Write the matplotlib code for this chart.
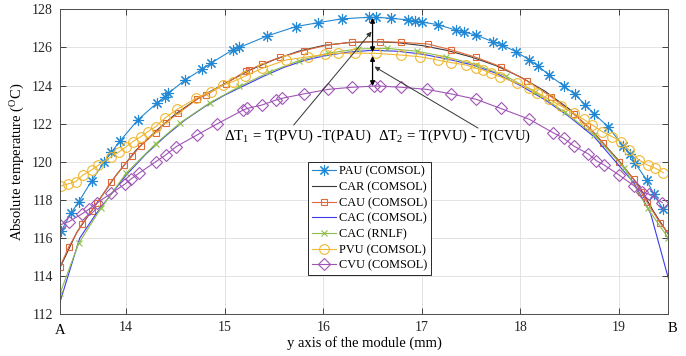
import matplotlib
matplotlib.use("Agg")
import matplotlib.pyplot as plt

plt.rcParams['font.family'] = ['Liberation Serif', 'DejaVu Serif']
plt.rcParams['mathtext.fontset'] = 'custom'
plt.rcParams['mathtext.rm'] = 'Liberation Serif'
plt.rcParams['mathtext.it'] = 'Liberation Serif:italic'
plt.rcParams['mathtext.bf'] = 'Liberation Serif:bold'

# ---------------- data ----------------
pau_x = [13.34, 13.44, 13.52, 13.65, 13.78, 13.85, 13.94, 14.12, 14.31, 14.39, 14.43, 14.60, 14.77, 14.86,
         15.08, 15.15, 15.43, 15.72, 15.95, 16.19, 16.46, 16.53, 16.69, 16.86, 16.93, 17.00, 17.16, 17.35,
         17.43, 17.55, 17.72, 17.81, 17.955, 18.09, 18.18, 18.29, 18.44, 18.55, 18.66, 18.75, 18.89, 19.04,
         19.11, 19.16, 19.28, 19.35, 19.45]
pau_y = [116.35, 117.3, 117.9, 119.0, 120.0, 120.5, 121.1, 122.2, 123.07, 123.4, 123.6, 124.3, 124.85, 125.17,
         125.87, 126.0, 126.6, 127.09, 127.3, 127.5, 127.58, 127.58, 127.53, 127.44, 127.4, 127.33, 127.2, 126.9,
         126.8, 126.65, 126.3, 126.13, 125.78, 125.34, 125.03, 124.55, 123.98, 123.54, 122.98, 122.5, 121.84, 120.83,
         120.41, 119.95, 119.05, 118.31, 117.5]

car_x = [13.33, 13.5, 13.7, 13.9, 14.1, 14.3, 14.5, 14.75, 15.0, 15.25, 15.5, 15.75, 16.0, 16.25, 16.5,
         16.75, 17.0, 17.25, 17.5, 17.75, 18.0, 18.25, 18.5, 18.75, 19.0, 19.2, 19.35, 19.5]
car_y = [114.45, 116.3, 117.8, 119.3, 120.6, 121.6, 122.5, 123.4, 124.1, 124.8, 125.35, 125.8, 126.1, 126.25, 126.3,
         126.25, 126.1, 125.85, 125.5, 125.05, 124.45, 123.7, 122.75, 121.5, 120.05, 118.75, 117.4, 116.2]

cau_x = [13.33, 13.42, 13.55, 13.65, 13.71, 13.85, 13.98, 14.06, 14.15, 14.30, 14.40, 14.53, 14.72, 14.81,
         15.01, 15.22, 15.25, 15.38, 15.56, 15.80, 16.05, 16.29, 16.58, 16.79, 17.06, 17.30, 17.55, 17.80,
         18.07, 18.31, 18.54, 18.68, 18.84, 19.00, 19.15, 19.22, 19.28, 19.42, 19.50]
cau_y = [114.5, 115.55, 116.72, 117.44, 117.86, 118.96, 119.83, 120.3, 120.85, 121.53, 122.05, 122.55, 123.28, 123.5,
         124.1, 124.78, 124.82, 125.13, 125.48, 125.83, 126.13, 126.27, 126.3, 126.27, 126.18, 125.87, 125.48, 124.99,
         124.24, 123.42, 122.5, 121.88, 120.97, 120.0, 119.08, 118.43, 117.91, 116.77, 116.25]

cac_x = [13.33, 13.53, 13.7, 13.85, 14.0, 14.2, 14.4, 14.6, 14.8, 15.0, 15.2, 15.4, 15.6, 15.8, 16.0, 16.25,
         16.5, 16.75, 17.0, 17.25, 17.5, 17.75, 18.0, 18.25, 18.5, 18.75, 19.0, 19.15, 19.32, 19.5]
cac_y = [112.65, 116.0, 117.3, 118.3, 119.3, 120.4, 121.35, 122.2, 122.9, 123.5, 124.0, 124.5, 124.95, 125.3, 125.55, 125.75,
         125.85, 125.8, 125.65, 125.4, 125.1, 124.65, 124.0, 123.25, 122.35, 121.3, 119.8, 118.9, 117.3, 113.9]

rnlf_x = [13.33, 13.52, 13.75, 14.0, 14.3, 14.55, 14.85, 15.15, 15.45, 15.75, 16.05, 16.35, 16.65, 16.95,
          17.25, 17.55, 17.85, 18.15, 18.45, 18.75, 19.05, 19.29, 19.5]
rnlf_y = [113.1, 115.73, 117.6, 119.4, 120.95, 122.05, 123.1, 123.95, 124.7, 125.3, 125.7, 125.92, 125.95, 125.8,
          125.5, 125.1, 124.5, 123.65, 122.6, 121.4, 119.7, 117.56, 116.0]

pvu_x = [13.34, 13.41, 13.49, 13.56, 13.65, 13.72, 13.85, 13.93, 14.00, 14.07, 14.15, 14.22, 14.30, 14.39,
         14.52, 14.71, 14.86, 14.98, 15.08, 15.21, 15.38, 15.62, 15.85, 16.02, 16.15, 16.32, 16.53, 16.79,
         16.98, 17.16, 17.30, 17.45, 17.55, 17.62, 17.70, 17.79, 17.97, 18.09, 18.17, 18.29, 18.41, 18.54,
         18.64, 18.73, 18.83, 18.93, 19.02, 19.10, 19.20, 19.29, 19.37, 19.45]
pvu_y = [118.73, 118.84, 118.96, 119.3, 119.57, 119.83, 120.27, 120.53, 120.79, 121.06, 121.32, 121.58, 121.84, 122.28,
         122.76, 123.33, 123.68, 124.03, 124.2, 124.5, 124.9, 125.34, 125.51, 125.64, 125.69, 125.7, 125.69, 125.6,
         125.51, 125.34, 125.2, 125.08, 124.9, 124.82, 124.64, 124.47, 124.12, 123.86, 123.63, 123.28, 122.93, 122.55,
         122.23, 121.93, 121.58, 121.32, 121.06, 120.62, 120.1, 119.83, 119.66, 119.43]

cvu_x = [13.33, 13.42, 13.55, 13.62, 13.71, 13.85, 13.99, 14.05, 14.13, 14.30, 14.40, 14.51, 14.72, 14.92,
         15.19, 15.23, 15.38, 15.52, 15.58, 15.80, 16.05, 16.29, 16.51, 16.58, 16.79, 17.05, 17.30, 17.55,
         17.80, 18.09, 18.33, 18.44, 18.54, 18.69, 18.77, 18.85, 19.00, 19.15, 19.23, 19.30, 19.44]
cvu_y = [116.69, 116.86, 117.26, 117.5, 117.86, 118.35, 118.84, 119.1, 119.4, 120.0, 120.35, 120.8, 121.41, 121.98,
         122.72, 122.8, 122.98, 123.24, 123.33, 123.56, 123.8, 123.91, 123.97, 123.97, 123.91, 123.8, 123.56, 123.28,
         122.8, 122.23, 121.53, 121.23, 120.83, 120.41, 120.06, 119.83, 119.31, 118.75, 118.43, 118.31, 117.86]

x_ticks = [14, 15, 16, 17, 18, 19]
y_ticks = [112, 114, 116, 118, 120, 122, 124, 126, 128]
x_min, x_max = 13.33, 19.5

arrow_x = 16.5
pau_peak, pvu_peak, cvu_peak = 127.55, 125.7, 123.97

# ---------------- figure ----------------
fig = plt.figure(figsize=(6.86, 3.56), dpi=100)
ax = fig.add_axes([0.0875, 0.1171, 0.9742 - 0.0875, 0.9739 - 0.1171])

lw = 0.8
ax.plot(pau_x, pau_y, color='#2288d4', lw=lw, marker=(8, 2, 0), ms=8, mfc='none', mew=0.8, label='PAU (COMSOL)')
ax.plot(car_x, car_y, color='#3a3a3a', lw=lw, label='CAR (COMSOL)')
ax.plot(cau_x, cau_y, color='#e06a3a', lw=lw, marker='s', ms=5, mfc='none', mew=0.8, label='CAU (COMSOL)')
ax.plot(cac_x, cac_y, color='#3b3bf0', lw=lw, label='CAC (COMSOL)')
ax.plot(rnlf_x, rnlf_y, color='#8fbf4a', lw=lw, marker='x', ms=5, mfc='none', mew=0.8, label='CAC (RNLF)')
ax.plot(pvu_x, pvu_y, color='#f0b830', lw=lw, marker='o', ms=7, mfc='none', mew=0.8, label='PVU (COMSOL)')
ax.plot(cvu_x, cvu_y, color='#a055b5', lw=lw, marker='D', ms=6, mfc='none', mew=0.8, label='CVU (COMSOL)')

ax.set_xlim(x_min, x_max)
ax.set_ylim(112, 128)
ax.set_xticks(x_ticks)
ax.set_yticks(y_ticks)
ax.tick_params(direction='in', top=True, right=True, length=4, width=0.6,
               labelsize=10, colors='#262626', pad=5)
ax.grid(True, color='#e3e3e3', lw=0.7)
ax.set_axisbelow(True)
for s in ax.spines.values():
    s.set_linewidth(0.7)
    s.set_color('#4d4d4d')

ax.set_xlabel('y axis of the module (mm)', fontsize=10.5, labelpad=1)
ax.set_ylabel('Absolute temperature ($^{\\mathrm{O}}$C)', fontsize=10.5, labelpad=4)

# A / B end labels
ax.annotate('A', xy=(x_min, 0), xycoords=('data', 'axes fraction'), xytext=(0, -12),
            textcoords='offset points', ha='center', va='center', fontsize=10.5)
ax.annotate('B', xy=(x_max, 0), xycoords=('data', 'axes fraction'), xytext=(3, -10),
            textcoords='offset points', ha='center', va='center', fontsize=10.5)

# double arrows
ax.annotate('', xy=(arrow_x, pau_peak), xytext=(arrow_x, pvu_peak + 0.05),
            arrowprops=dict(arrowstyle='<|-|>', color='black', lw=0.9, mutation_scale=7,
                            shrinkA=0, shrinkB=0))
ax.annotate('', xy=(arrow_x, pvu_peak - 0.15), xytext=(arrow_x, cvu_peak),
            arrowprops=dict(arrowstyle='<|-|>', color='black', lw=0.9, mutation_scale=7,
                            shrinkA=0, shrinkB=0))
# leader lines
ax.annotate('', xy=(16.49, 126.83), xytext=(15.70, 121.93),
            arrowprops=dict(arrowstyle='-|>', color='#333333', lw=0.7, mutation_scale=7,
                            shrinkA=0, shrinkB=0))
ax.annotate('', xy=(16.52, 124.99), xytext=(17.57, 121.77),
            arrowprops=dict(arrowstyle='-|>', color='#333333', lw=0.7, mutation_scale=7,
                            shrinkA=0, shrinkB=0))

ax.text(14.99, 121.15, '$\\Delta$T$_1$ = T(PVU) -T(PAU)', fontsize=10.7, ha='left', va='baseline')
ax.text(16.56, 121.15, '$\\Delta$T$_2$ = T(PVU) - T(CVU)', fontsize=10.7, ha='left', va='baseline')

leg = ax.legend(loc='upper left', bbox_to_anchor=(0.408, 0.499), borderaxespad=0,
                fontsize=8.8, frameon=True, fancybox=False, framealpha=1,
                edgecolor='#262626', handlelength=2.0, handletextpad=0.25,
                labelspacing=0.3, borderpad=0.3)
leg.get_frame().set_linewidth(0.7)

fig.savefig('out.png', dpi=100)
